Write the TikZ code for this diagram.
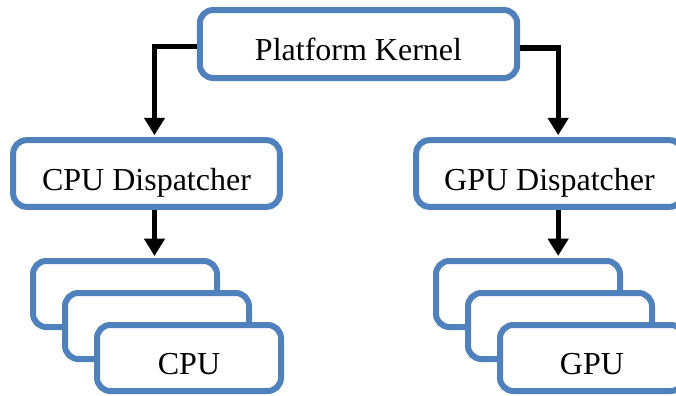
\documentclass[tikz,border=0pt]{standalone}
\usepackage{fontspec}
\setmainfont{Liberation Serif}
\usepackage{tikz}
\usetikzlibrary{
  arrows.meta,
  positioning,
  calc
}
\definecolor{boxblue}{RGB}{79,129,189}
\tikzset{
  unitbox/.style={
    draw=boxblue,
    fill=white,
    line width=4.5pt,
    rounded corners=10pt,
    align=center,
    inner sep=0pt,
    text height=25pt,
    text depth=0pt,
    font=\fontsize{24}{28}\selectfont
  },
  kernelbox/.style={unitbox,minimum width=238pt,minimum height=51pt},
  dispbox/.style={unitbox,minimum width=200pt,minimum height=50pt},
  devbox/.style={unitbox,minimum width=138pt,minimum height=49.5pt},
  flowarrow/.style={-{Triangle[width=15pt,length=13pt]},line width=4pt,draw=black,shorten >=1.5pt},
}

\begin{document}
\begin{tikzpicture}[x=0.75pt,y=-0.75pt]
  \useasboundingbox (0,0) rectangle (676,396);
  \clip (0,0) rectangle (676,396);

  % Kernel and dispatchers
  \node[kernelbox] (kernel) at (358.5,44) {Platform Kernel};
  \node[dispbox] (cpudisp) at (146.5,173.5) {CPU Dispatcher};
  \node[dispbox] (gpudisp) at (549.5,173.5) {GPU Dispatcher};

  % CPU stack
  \node[devbox] (cpu1) at (125,294) {};
  \node[devbox] (cpu2) at ($(cpu1)+(32,32)$) {};
  \node[devbox] (cpu3) at ($(cpu2)+(32,32)$) {CPU};

  % GPU stack
  \node[devbox] (gpu1) at (528,294) {};
  \node[devbox] (gpu2) at ($(gpu1)+(32,32)$) {};
  \node[devbox] (gpu3) at ($(gpu2)+(32,32)$) {GPU};

  \draw[flowarrow] ([yshift=-2pt]kernel.west) -| ([xshift=6pt]cpudisp.north);
  \draw[flowarrow] ([yshift=-3pt]kernel.east) -| ([xshift=6.5pt]gpudisp.north);
  \draw[flowarrow] ([xshift=6pt]cpudisp.south) -- ([xshift=6pt]cpudisp.south |- cpu1.north);
  \draw[flowarrow] ([xshift=6.5pt]gpudisp.south) -- ([xshift=6.5pt]gpudisp.south |- gpu1.north);
\end{tikzpicture}
\end{document}
